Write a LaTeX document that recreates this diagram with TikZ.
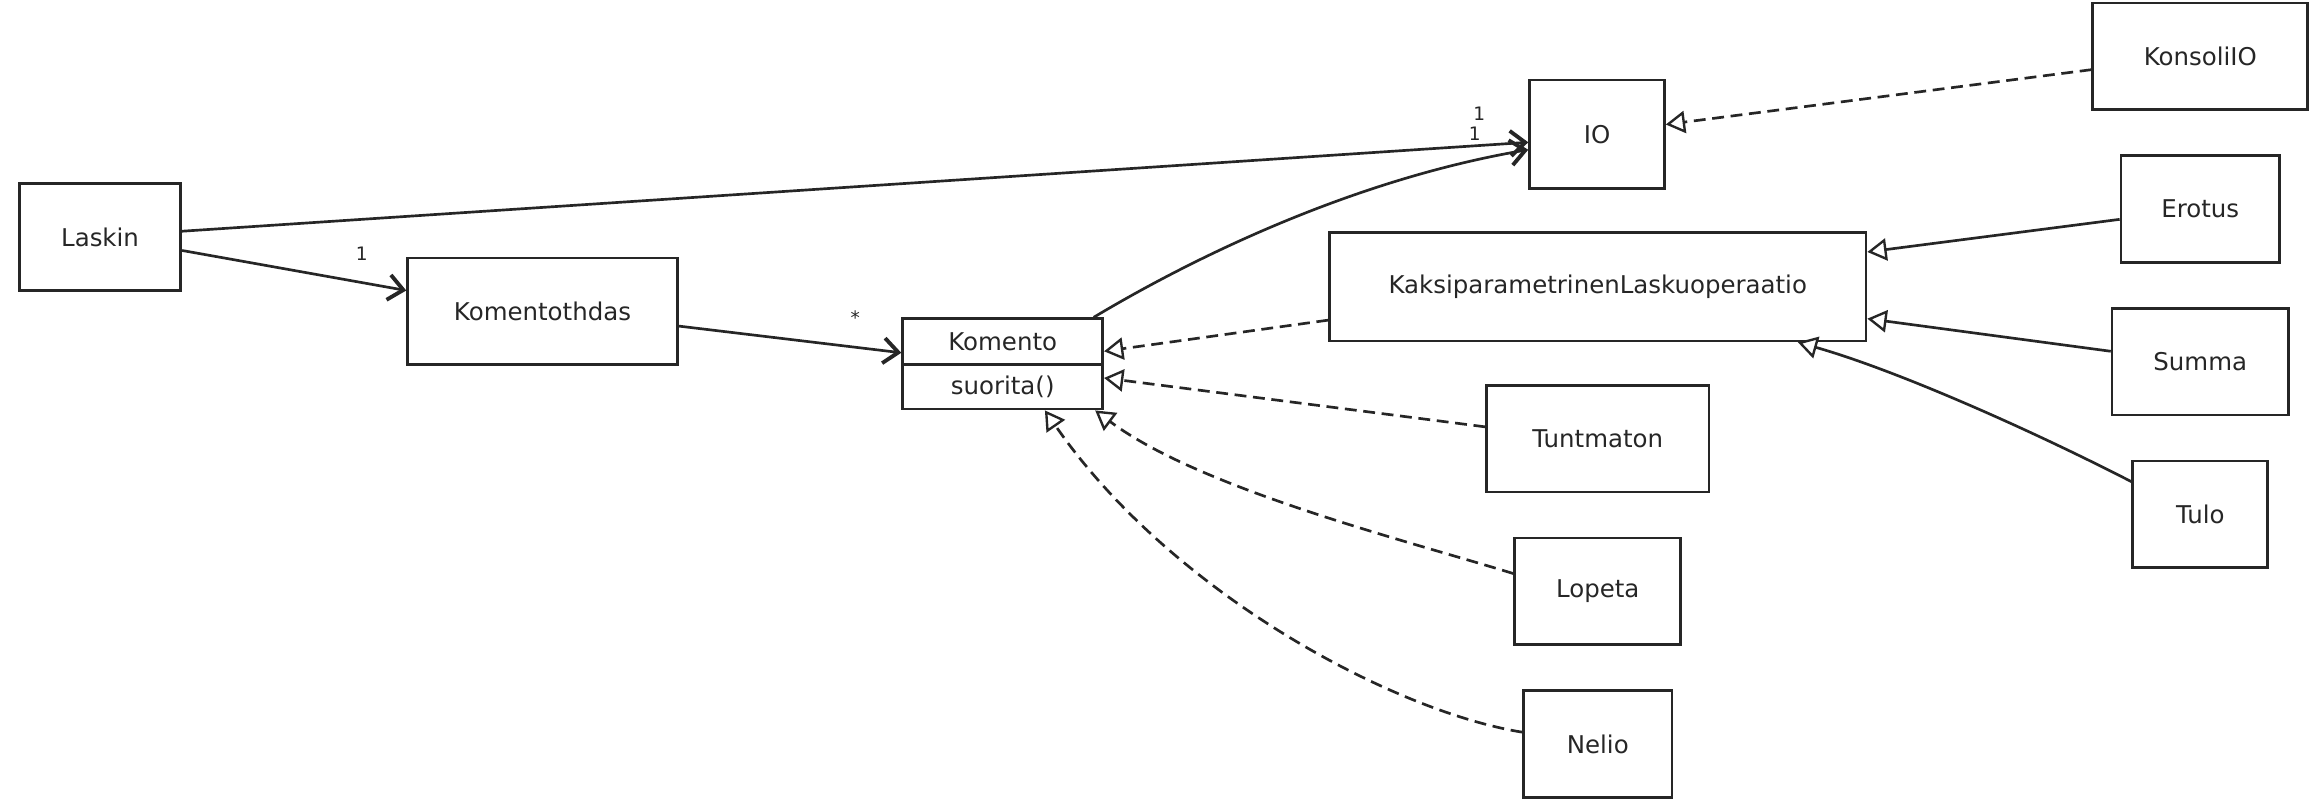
\documentclass[tikz,border=0pt]{standalone}
\usepackage{fontspec}
\setmainfont{DejaVu Sans}
\usetikzlibrary{arrows.meta}
\tikzset{
  cls/.style={draw=black!85, line width=1.8pt, fill=white, minimum height=72pt, inner sep=0pt, text=black!85, font=\fontsize{16.5}{19}\selectfont},
  assoc/.style={line width=1.8pt, black!85, -{Straight Barb[length=10pt,width=17pt,line width=2.6pt]}},
  real/.style={line width=1.8pt, black!85, dash pattern=on 8pt off 4.5pt, -{Triangle[open,length=13pt,width=15pt,fill=white,line width=1.6pt]}},
  gen/.style={line width=1.8pt, black!85, -{Triangle[open,length=13pt,width=15pt,fill=white,line width=1.6pt]}},
  mult/.style={font=\fontsize{12.5}{14}\selectfont, inner sep=0pt, text=black!85}
}
\begin{document}
\begin{tikzpicture}[x=1pt,y=-1pt]
\useasboundingbox[fill=white] (0,0) rectangle (1568,544);
% classes
\node[cls, minimum width=109pt] (laskin) at (67.5,160) {Laskin};
\node[cls, minimum width=182pt] (tehdas) at (366,210) {Komentothdas};
\node[cls, minimum width=135pt, minimum height=31pt] (komento) at (676.5,230.5) {Komento};
\node[cls, minimum width=135pt, minimum height=30pt] (suorita) at (676.5,261) {suorita()};
\node[cls, minimum width=91pt, minimum height=73pt] (io) at (1077.5,90.5) {IO};
\node[cls, minimum width=145pt] (konsoli) at (1484.5,38) {KonsoliIO};
\node[cls, minimum width=362pt, minimum height=73pt] (kaksi) at (1078,193.5) {KaksiparametrinenLaskuoperaatio};
\node[cls, minimum width=107pt] (erotus) at (1484.5,141) {Erotus};
\node[cls, minimum width=119pt] (summa) at (1484.5,244) {Summa};
\node[cls, minimum width=91pt] (tulo) at (1484.5,347) {Tulo};
\node[cls, minimum width=150pt] (tunt) at (1078,296) {Tuntmaton};
\node[cls, minimum width=112pt] (lopeta) at (1078,399) {Lopeta};
\node[cls, minimum width=100pt] (nelio) at (1078,502) {Nelio};
% associations
\draw[assoc] ([yshift=4pt]laskin.east) -- ([yshift=-5.5pt]io.west);
\draw[assoc] ([xshift=-7pt]komento.north east) .. controls (815,168) and (920,120) .. ([yshift=-10.5pt]io.west);
\draw[assoc] ([yshift=-9pt]laskin.east) -- ([yshift=14pt]tehdas.west);
\draw[assoc] ([yshift=-10pt]tehdas.east) -- ([yshift=-7.5pt]komento.west);
% realizations
\draw[real] ([yshift=-9pt]konsoli.west) -- ([yshift=6.5pt]io.east);
\draw[real] ([yshift=-22.5pt]kaksi.west) -- ([yshift=-6.5pt]komento.east);
\draw[real] ([yshift=8pt]tunt.west) -- ([yshift=6pt]suorita.east);
\draw[real] ([yshift=12pt]lopeta.west) .. controls (950,365) and (810,330) .. ([xshift=-6pt]suorita.south east);
\draw[real] ([yshift=8pt]nelio.west) .. controls (940,480) and (790,400) .. ([xshift=28.5pt]suorita.south);
% generalizations
\draw[gen] ([yshift=-7pt]erotus.west) -- ([yshift=23.5pt]kaksi.east);
\draw[gen] ([yshift=7pt]summa.west) -- ([yshift=-21.5pt]kaksi.east);
\draw[gen] ([yshift=22pt]tulo.west) .. controls (1370,290) and (1280,250) .. ([xshift=135pt]kaksi.south);
% multiplicities
\node[mult] (m1) at (244,171) {1};
\node[mult] (m2) at (577,214) {*};
\node[mult] (m3) at (998,77) {1};
\node[mult] (m4) at (995,90) {1};
\end{tikzpicture}
\end{document}
